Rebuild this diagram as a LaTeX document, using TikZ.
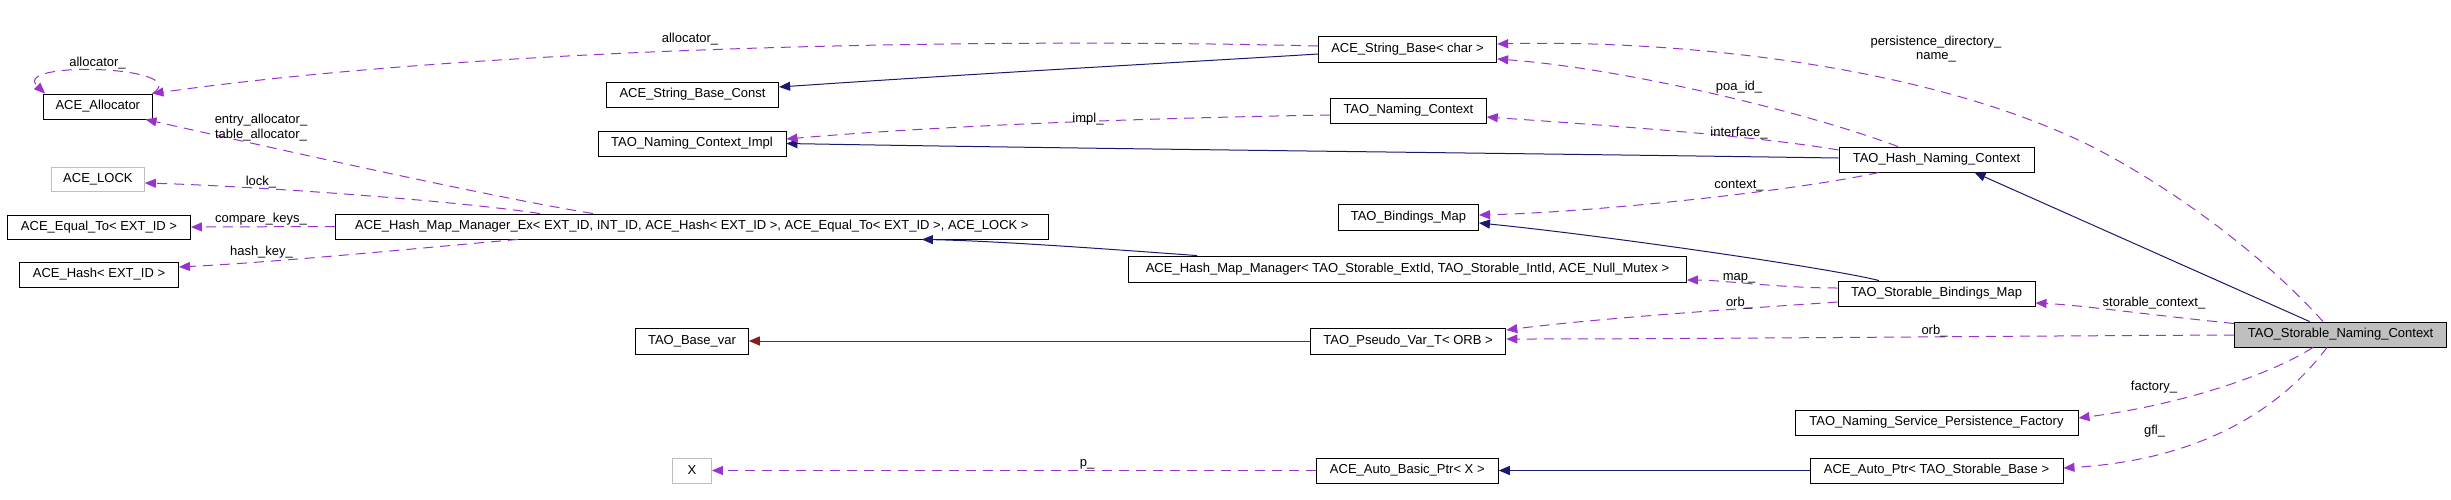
\documentclass[tikz,border=0pt]{standalone}
\usepackage{fontspec}
\setmainfont{Liberation Sans}
\usetikzlibrary{arrows.meta,calc}
\definecolor{navy}{HTML}{191970}
\definecolor{orchid}{HTML}{9A32CD}
\definecolor{darkred}{HTML}{8B1A1A}
\definecolor{boxgray}{HTML}{BFBFBF}
\begin{document}
\begin{tikzpicture}[x=1pt,y=-1pt,
  box/.style={draw=black, line width=0.9pt, rectangle, inner sep=0pt, minimum height=25pt, font=\fontsize{13}{15}\selectfont, text=black},
  graybox/.style={box, draw=boxgray},
  lbl/.style={inner sep=0pt, font=\fontsize{13}{14.5}\selectfont, align=center, text=black},
  inh/.style={draw=navy, line width=1pt, -{Triangle[length=11pt,width=9pt]}},
  inhred/.style={draw=darkred, line width=1pt, -{Triangle[length=11pt,width=9pt]}},
  usg/.style={draw=orchid, line width=1pt, dash pattern=on 10pt off 7pt, -{Triangle[length=11pt,width=9pt]}}
]
\useasboundingbox (0,0) rectangle (2451,499);

% nodes
\node[box, minimum width=108.5pt] (alloc) at (97.8,106.5) {ACE\_Allocator};
\node[graybox, minimum width=93pt, minimum height=24pt] (lock) at (97.9,179) {ACE\_LOCK};
\node[box, minimum width=183pt, minimum height=24pt] (equal) at (99,227) {ACE\_Equal\_To< EXT\_ID >};
\node[box, minimum width=159pt] (hashx) at (99,274.5) {ACE\_Hash< EXT\_ID >};
\node[box, minimum width=713pt] (hmmex) at (691.9,226.5) {ACE\_Hash\_Map\_Manager\_Ex< EXT\_ID, INT\_ID, ACE\_Hash< EXT\_ID >, ACE\_Equal\_To< EXT\_ID >, ACE\_LOCK >};
\node[box, minimum width=172.4pt] (sbconst) at (692.5,94.5) {ACE\_String\_Base\_Const};
\node[box, minimum width=188pt] (nci) at (692,143.5) {TAO\_Naming\_Context\_Impl};
\node[box, minimum width=112.7pt, minimum height=26pt] (basevar) at (692,341) {TAO\_Base\_var};
\node[graybox, minimum width=39pt] (X) at (692,470.5) {X};
\node[box, minimum width=178.4pt, minimum height=26pt] (sbchar) at (1407.5,49) {ACE\_String\_Base< char >};
\node[box, minimum width=155.7pt] (nc) at (1408.4,110.5) {TAO\_Naming\_Context};
\node[box, minimum width=140pt, minimum height=26pt] (bmap) at (1408.5,217) {TAO\_Bindings\_Map};
\node[box, minimum width=558pt, minimum height=26pt] (hmm) at (1407.5,269) {ACE\_Hash\_Map\_Manager< TAO\_Storable\_ExtId, TAO\_Storable\_IntId, ACE\_Null\_Mutex >};
\node[box, minimum width=195.7pt, minimum height=26pt] (pvt) at (1408,341) {TAO\_Pseudo\_Var\_T< ORB >};
\node[box, minimum width=182pt] (abp) at (1407.3,470.5) {ACE\_Auto\_Basic\_Ptr< X >};
\node[box, minimum width=195pt] (hnc) at (1936.5,159.5) {TAO\_Hash\_Naming\_Context};
\node[box, minimum width=197pt] (sbm) at (1936.5,293.5) {TAO\_Storable\_Bindings\_Map};
\node[box, minimum width=283pt] (fac) at (1936.5,422.5) {TAO\_Naming\_Service\_Persistence\_Factory};
\node[box, minimum width=253pt] (aptr) at (1936.5,470.5) {ACE\_Auto\_Ptr< TAO\_Storable\_Base >};
\node[box, fill=boxgray, minimum width=212.4pt] (snc) at (2340.6,334.5) {TAO\_Storable\_Naming\_Context};

% inheritance
\draw[inh] ($(sbchar.west)+(0,5)$) .. controls (1240,59) and (1000,72) .. ($(sbconst.east)+(0,-7.5)$);
\draw[inh] ($(hnc.west)+(0,-1.5)$) .. controls (1500,153) and (1100,149) .. (nci.east);
\draw[inh] ($(sbm.north)+(-57.5,0)$) .. controls (1830,268) and (1600,235) .. ($(bmap.east)+(0,6)$);
\draw[inh] ($(hmm.north)+(-210.5,0)$) .. controls (1120,250) and (1000,241) .. ($(hmmex.south)+(230,0)$);
\draw[inh] ($(snc.north)+(-31,0)$) -- ($(hnc.south)+(38,0)$);
\draw[inh] (aptr.west) -- (abp.east);
\draw[inhred] (pvt.west) -- (basevar.east);

% usage
\draw[usg] ($(sbchar.west)+(0,-3)$) .. controls (1000,38) and (500,45) .. (alloc.north east);
\draw[usg] (alloc.north east) .. controls (195,66) and (10,60) .. ($(alloc.north west)+(2,0)$);
\draw[usg] ($(nc.west)+(0,4.5)$) .. controls (1150,118) and (950,125) .. ($(nci.east)+(0,-4.5)$);
\draw[usg] ($(hmmex.north)+(-99,0)$) .. controls (480,195) and (260,145) .. ($(alloc.south east)+(-7,0)$);
\draw[usg] ($(hmmex.north)+(-152,0)$) .. controls (450,200) and (250,186) .. ($(lock.east)+(0,4)$);
\draw[usg] (hmmex.west) -- (equal.east);
\draw[usg] ($(hmmex.south)+(-174,0)$) .. controls (420,248) and (280,262) .. ($(hashx.east)+(0,-7.5)$);
\draw[usg] ($(hnc.north)+(-38.5,0)$) .. controls (1800,110) and (1620,68) .. ($(sbchar.east)+(0,10)$);
\draw[usg] ($(snc.north)+(-17.6,0)$) .. controls (2250,240) and (2140,168) .. (2074,138) .. controls (1898,58) and (1650,40) .. ($(sbchar.east)+(0,-5)$);
\draw[usg] ($(hnc.west)+(0,-9.5)$) .. controls (1750,135) and (1600,125) .. ($(nc.east)+(0,6.5)$);
\draw[usg] ($(hnc.south)+(-57.5,0)$) .. controls (1800,190) and (1600,212) .. ($(bmap.east)+(0,-2)$);
\draw[usg] ($(sbm.west)+(0,-5.5)$) .. controls (1780,288) and (1720,280) .. ($(hmm.east)+(0,11)$);
\draw[usg] ($(sbm.west)+(0,8.5)$) .. controls (1750,308) and (1600,318) .. ($(pvt.east)+(0,-11)$);
\draw[usg] ($(snc.west)+(0,0.5)$) .. controls (2000,336) and (1700,339) .. ($(pvt.east)+(0,-2)$);
\draw[usg] ($(snc.west)+(0,-11)$) .. controls (2150,315) and (2080,305) .. ($(sbm.east)+(0,9.5)$);
\draw[usg] ($(snc.south)+(-27.6,0)$) .. controls (2270,375) and (2180,405) .. ($(fac.east)+(0,-4.5)$);
\draw[usg] ($(snc.south)+(-13.6,0)$) .. controls (2280,410) and (2200,460) .. ($(aptr.east)+(0,-2.5)$);
\draw[usg] (abp.west) -- (X.east);

% labels
\node[lbl] (l1) at (97.5,63) {allocator\_};
\node[lbl] (l2) at (690,39) {allocator\_};
\node[lbl] (l3) at (261,127.5) {entry\_allocator\_\\table\_allocator\_};
\node[lbl] (l4) at (261,182) {lock\_};
\node[lbl] (l5) at (261,219) {compare\_keys\_};
\node[lbl] (l6) at (261.5,252) {hash\_key\_};
\node[lbl] (l7) at (1088,119) {impl\_};
\node[lbl] (l8) at (1739,87) {poa\_id\_};
\node[lbl] (l9) at (1936,49) {persistence\_directory\_\\name\_};
\node[lbl] (l10) at (1739,133) {interface\_};
\node[lbl] (l11) at (1739,186) {context\_};
\node[lbl] (l12) at (1739,278) {map\_};
\node[lbl] (l13) at (1739,303) {orb\_};
\node[lbl] (l14) at (1934.5,331) {orb\_};
\node[lbl] (l15) at (2154,303) {storable\_context\_};
\node[lbl] (l16) at (2154,387) {factory\_};
\node[lbl] (l17) at (2154.5,431) {gfl\_};
\node[lbl] (l18) at (1087,464) {p\_};
\end{tikzpicture}
\end{document}
